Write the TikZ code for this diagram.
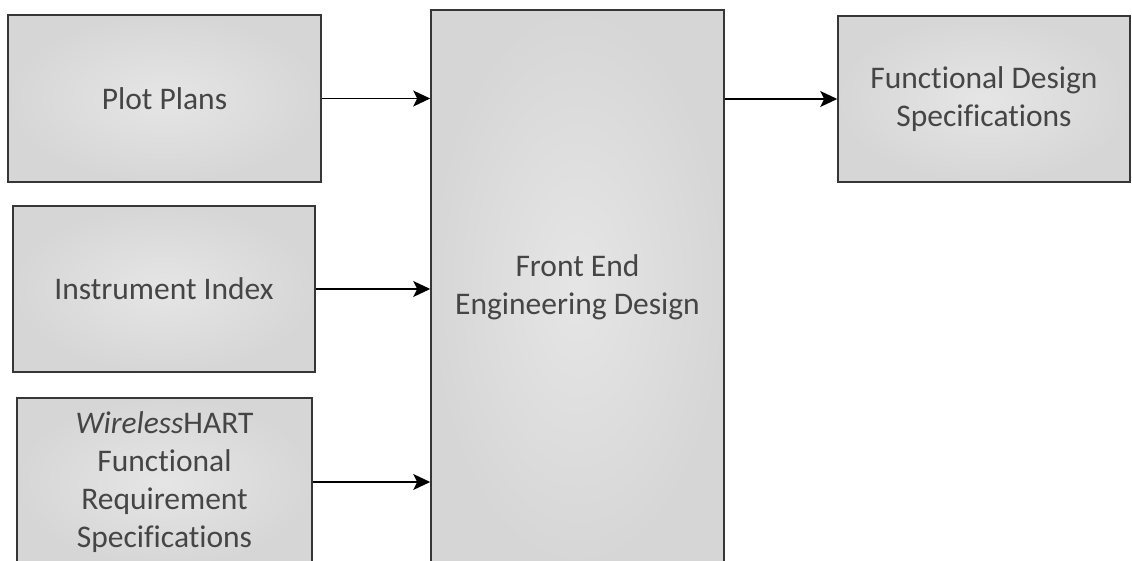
\documentclass[tikz,border=0pt]{standalone}
\usepackage{fontspec}
\setmainfont[Ligatures=NoCommon]{Carlito}
\usetikzlibrary{arrows.meta}

\definecolor{boxline}{HTML}{363636}
\definecolor{boxtext}{HTML}{454545}

\tikzset{
	block/.style={rectangle, draw=boxline, line width=1.6pt, inner sep=0pt,
		inner color=gray!20, outer color=gray!32, text=boxtext, align=center,
		font=\fontsize{31.5}{38}\selectfont},
	feed/.style={line width=1.6pt, -{Stealth[length=17pt,width=16pt,inset=4pt]}}
}

\begin{document}
\begin{tikzpicture}[x=1pt,y=-1pt]
		
		\useasboundingbox (0,0) rectangle (1132,561);
		\clip (0,0) rectangle (1132,561);
		
		\node[block,minimum width=313pt,minimum height=167pt] (plots) at (164.5,98.5) {Plot Plans};
		\node[block,minimum width=302pt,minimum height=166pt] (index) at (164,289) {Instrument Index};
		\node[block,minimum width=295pt,minimum height=168pt] (whart) at (164.5,482) {\textit{Wireless}HART\\Functional\\Requirement\\Specifications};
		
		\node[block,minimum width=293pt,minimum height=554pt] (feed) at (577.5,287) {Front End\\Engineering Design};
		
		\node[block,minimum width=292pt,minimum height=166pt] (fds) at (984,99) {Functional Design\\Specifications};
		
		\draw[feed] (plots.east) -- (plots.east -| feed.west);
		\draw[feed] (index.east) -- (index.east -| feed.west);
		\draw[feed] (whart.east) -- (whart.east -| feed.west);
		\draw[feed] (feed.east |- fds.west) -- (fds.west);
	\end{tikzpicture}
\end{document}
